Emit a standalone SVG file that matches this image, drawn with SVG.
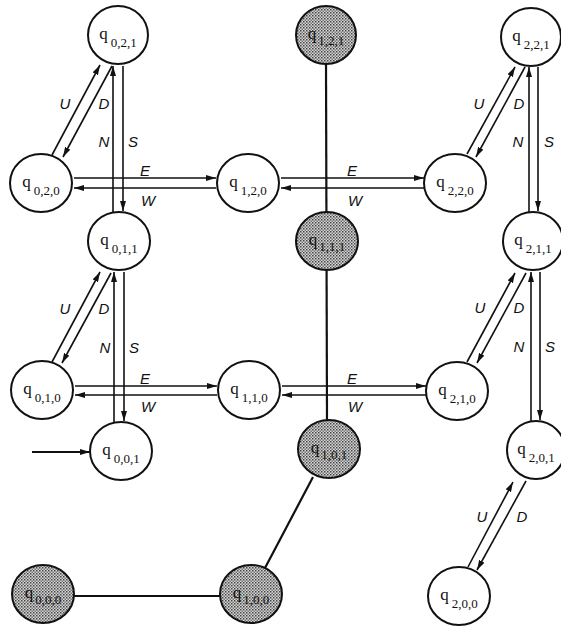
<svg xmlns="http://www.w3.org/2000/svg" width="561" height="627" viewBox="0 0 561 627">
  <style>
    .node { fill: #ffffff; stroke: #111; stroke-width: 2; }
    .dead { fill: url(#stipple); stroke: #111; stroke-width: 2; }
    .lbl { font-family: "Liberation Serif", "DejaVu Serif", serif; font-size: 17px; fill: #111; text-anchor: middle; }
    .sub { font-size: 13px; }
    .arc { stroke: #111; stroke-width: 1.6; fill: none; marker-end: url(#head); }
    .link { stroke: #111; stroke-width: 2.2; fill: none; }
    .act { font-family: "Liberation Sans", Arial, sans-serif; font-style: italic; font-size: 15px; fill: #111; text-anchor: middle; }
  </style>
  <defs>
    <pattern id="stipple" width="3" height="3" patternUnits="userSpaceOnUse">
      <rect width="3" height="3" fill="#d6d6d6"/>
      <rect x="0" y="0" width="1.5" height="1.5" fill="#444"/>
      <rect x="1.5" y="1.5" width="1.5" height="1.5" fill="#777"/>
    </pattern>
    <marker id="head" viewBox="0 0 10 6" refX="10" refY="3" markerWidth="10" markerHeight="6" markerUnits="userSpaceOnUse" orient="auto">
      <path d="M0,0 L10,3 L0,6 Z" fill="#111"/>
    </marker>
  </defs>
  <rect width="561" height="627" fill="#ffffff"/>

  <g id="connectors">
    <!-- undirected links through the unreachable states -->
    <line class="link" x1="326" y1="64" x2="327" y2="422"/>
    <line class="link" x1="74" y1="596" x2="220" y2="596"/>
    <line class="link" x1="313" y1="477" x2="265" y2="568"/>
    <!-- start arrow -->
    <line class="arc" x1="32" y1="452" x2="90" y2="452" style="stroke-width:2.2"/>

    <!-- E / W, top row -->
    <line class="arc" x1="74" y1="178" x2="216" y2="178"/>
    <line class="arc" x1="216" y1="188" x2="74" y2="188"/>
    <line class="arc" x1="281" y1="178" x2="424" y2="178"/>
    <line class="arc" x1="424" y1="188" x2="281" y2="188"/>
    <!-- E / W, middle row -->
    <line class="arc" x1="75" y1="386" x2="217" y2="386"/>
    <line class="arc" x1="217" y1="395" x2="75" y2="395"/>
    <line class="arc" x1="282" y1="386" x2="426" y2="386"/>
    <line class="arc" x1="426" y1="395" x2="282" y2="395"/>

    <!-- N / S -->
    <line class="arc" x1="113" y1="212" x2="113" y2="66"/>
    <line class="arc" x1="123" y1="66" x2="123" y2="211"/>
    <line class="arc" x1="114" y1="422" x2="114" y2="272"/>
    <line class="arc" x1="124" y1="272" x2="124" y2="421"/>
    <line class="arc" x1="529" y1="212" x2="529" y2="67"/>
    <line class="arc" x1="538" y1="67" x2="538" y2="211"/>
    <line class="arc" x1="531" y1="421" x2="531" y2="272"/>
    <line class="arc" x1="540" y1="272" x2="540" y2="420"/>

    <!-- U / D -->
    <line class="arc" x1="52" y1="155" x2="100" y2="65"/>
    <line class="arc" x1="112" y1="66" x2="63" y2="157"/>
    <line class="arc" x1="52" y1="362" x2="100" y2="272"/>
    <line class="arc" x1="111" y1="273" x2="62" y2="363"/>
    <line class="arc" x1="467" y1="154" x2="515" y2="67"/>
    <line class="arc" x1="525" y1="67" x2="476" y2="157"/>
    <line class="arc" x1="467" y1="362" x2="515" y2="273"/>
    <line class="arc" x1="526" y1="273" x2="477" y2="363"/>
    <line class="arc" x1="468" y1="567" x2="513" y2="482"/>
    <line class="arc" x1="526" y1="481" x2="477" y2="570"/>

    <!-- action labels -->
    <text class="act" x="65" y="109">U</text>
    <text class="act" x="104" y="109">D</text>
    <text class="act" x="104" y="147">N</text>
    <text class="act" x="133" y="147">S</text>
    <text class="act" x="145" y="176">E</text>
    <text class="act" x="148" y="206">W</text>
    <text class="act" x="352" y="176">E</text>
    <text class="act" x="355" y="206">W</text>
    <text class="act" x="479" y="109">U</text>
    <text class="act" x="519" y="109">D</text>
    <text class="act" x="518" y="147">N</text>
    <text class="act" x="549" y="147">S</text>
    <text class="act" x="65" y="314">U</text>
    <text class="act" x="104" y="314">D</text>
    <text class="act" x="105" y="353">N</text>
    <text class="act" x="134" y="353">S</text>
    <text class="act" x="145" y="384">E</text>
    <text class="act" x="148" y="412">W</text>
    <text class="act" x="352" y="384">E</text>
    <text class="act" x="355" y="412">W</text>
    <text class="act" x="480" y="313">U</text>
    <text class="act" x="519" y="313">D</text>
    <text class="act" x="519" y="352">N</text>
    <text class="act" x="550" y="352">S</text>
    <text class="act" x="482" y="522">U</text>
    <text class="act" x="522" y="522">D</text>
  </g>

  <!-- states -->
  <g id="q021"><ellipse class="node" cx="118" cy="35" rx="30" ry="29"/><text class="lbl" x="118" y="39">q<tspan class="sub" dx="3" dy="8">0,2,1</tspan></text></g>
  <g id="q121"><ellipse class="dead" cx="326" cy="35" rx="30" ry="29"/><text class="lbl" x="326" y="39">q<tspan class="sub" dx="2" dy="6">1,2,1</tspan></text></g>
  <g id="q221"><ellipse class="node" cx="531" cy="37" rx="30" ry="29"/><text class="lbl" x="531" y="41">q<tspan class="sub" dx="3" dy="8">2,2,1</tspan></text></g>

  <g id="q020"><ellipse class="node" cx="41" cy="183" rx="31" ry="29"/><text class="lbl" x="41" y="187">q<tspan class="sub" dx="3" dy="8">0,2,0</tspan></text></g>
  <g id="q120"><ellipse class="node" cx="248" cy="183" rx="31" ry="29"/><text class="lbl" x="248" y="187">q<tspan class="sub" dx="3" dy="8">1,2,0</tspan></text></g>
  <g id="q220"><ellipse class="node" cx="455" cy="183" rx="31" ry="29"/><text class="lbl" x="455" y="187">q<tspan class="sub" dx="3" dy="8">2,2,0</tspan></text></g>

  <g id="q011"><ellipse class="node" cx="119" cy="241" rx="31" ry="29"/><text class="lbl" x="119" y="245">q<tspan class="sub" dx="3" dy="8">0,1,1</tspan></text></g>
  <g id="q111"><ellipse class="dead" cx="327" cy="241" rx="31" ry="29"/><text class="lbl" x="327" y="245">q<tspan class="sub" dx="2" dy="6">1,1,1</tspan></text></g>
  <g id="q211"><ellipse class="node" cx="533" cy="241" rx="30" ry="29"/><text class="lbl" x="533" y="245">q<tspan class="sub" dx="3" dy="8">2,1,1</tspan></text></g>

  <g id="q010"><ellipse class="node" cx="42" cy="390" rx="31" ry="29"/><text class="lbl" x="42" y="394">q<tspan class="sub" dx="3" dy="8">0,1,0</tspan></text></g>
  <g id="q110"><ellipse class="node" cx="249" cy="390" rx="31" ry="29"/><text class="lbl" x="249" y="394">q<tspan class="sub" dx="3" dy="8">1,1,0</tspan></text></g>
  <g id="q210"><ellipse class="node" cx="457" cy="391" rx="31" ry="29"/><text class="lbl" x="457" y="395">q<tspan class="sub" dx="3" dy="8">2,1,0</tspan></text></g>

  <g id="q001"><ellipse class="node" cx="121" cy="451" rx="31" ry="29"/><text class="lbl" x="121" y="455">q<tspan class="sub" dx="3" dy="8">0,0,1</tspan></text></g>
  <g id="q101"><ellipse class="dead" cx="329" cy="449" rx="31" ry="29"/><text class="lbl" x="329" y="453">q<tspan class="sub" dx="2" dy="6">1,0,1</tspan></text></g>
  <g id="q201"><ellipse class="node" cx="536" cy="450" rx="29" ry="29"/><text class="lbl" x="536" y="454">q<tspan class="sub" dx="3" dy="8">2,0,1</tspan></text></g>

  <g id="q000"><ellipse class="dead" cx="43" cy="594" rx="31" ry="29"/><text class="lbl" x="43" y="598">q<tspan class="sub" dx="2" dy="6">0,0,0</tspan></text></g>
  <g id="q100"><ellipse class="dead" cx="251" cy="594" rx="31" ry="29"/><text class="lbl" x="251" y="598">q<tspan class="sub" dx="2" dy="6">1,0,0</tspan></text></g>
  <g id="q200"><ellipse class="node" cx="459" cy="596" rx="31" ry="29"/><text class="lbl" x="459" y="600">q<tspan class="sub" dx="3" dy="8">2,0,0</tspan></text></g>
</svg>
